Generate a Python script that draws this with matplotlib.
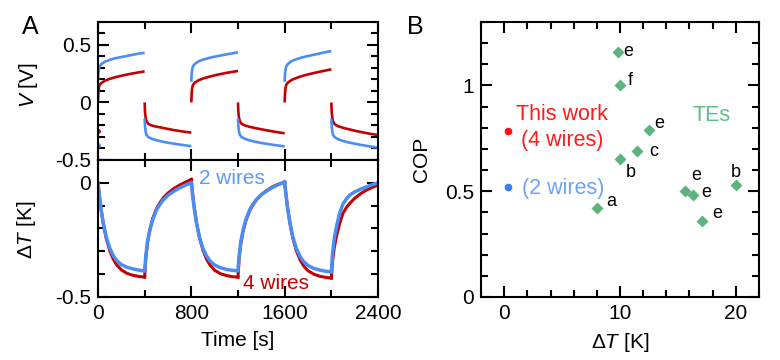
import matplotlib.pyplot as plt
from matplotlib.ticker import MultipleLocator

plt.rcParams['font.family'] = ['Liberation Sans', 'DejaVu Sans']
plt.rcParams['mathtext.fontset'] = 'custom'
plt.rcParams['mathtext.rm'] = 'Liberation Sans'
plt.rcParams['mathtext.it'] = 'Liberation Sans:italic'
plt.rcParams['axes.unicode_minus'] = False

# --- Panel A data: half-cycles of 400 s, sampled at these times (s, relative) ---
seg_start = [0, 400, 800, 1200, 1600, 2000]
t_v = [0, 3, 8, 15, 30, 60, 100, 150, 200, 250, 300, 350, 400]
t_dt = [0, 10, 25, 45, 70, 100, 130, 160, 200, 250, 300, 350, 400]

v_2w = [
    [0.18, 0.25, 0.29, 0.315, 0.335, 0.355, 0.37, 0.385, 0.395, 0.405, 0.415, 0.425, 0.432],
    [-0.14, -0.2, -0.25, -0.28, -0.3, -0.315, -0.328, -0.34, -0.35, -0.358, -0.366, -0.373, -0.38],
    [0.18, 0.25, 0.29, 0.315, 0.335, 0.357, 0.372, 0.387, 0.398, 0.408, 0.418, 0.427, 0.436],
    [-0.14, -0.2, -0.25, -0.28, -0.3, -0.316, -0.33, -0.342, -0.352, -0.36, -0.368, -0.375, -0.382],
    [0.18, 0.25, 0.29, 0.316, 0.337, 0.36, 0.376, 0.392, 0.404, 0.415, 0.426, 0.437, 0.447],
    [-0.14, -0.2, -0.25, -0.282, -0.303, -0.32, -0.335, -0.348, -0.358, -0.368, -0.377, -0.385, -0.392],
]
v_4w = [
    [0.0, 0.08, 0.13, 0.155, 0.17, 0.19, 0.205, 0.22, 0.232, 0.243, 0.253, 0.262, 0.27],
    [0.0, -0.08, -0.13, -0.16, -0.185, -0.2, -0.21, -0.22, -0.23, -0.24, -0.248, -0.256, -0.262],
    [0.0, 0.08, 0.13, 0.155, 0.172, 0.192, 0.208, 0.223, 0.236, 0.247, 0.257, 0.266, 0.274],
    [0.0, -0.08, -0.13, -0.16, -0.185, -0.2, -0.212, -0.223, -0.233, -0.243, -0.252, -0.26, -0.268],
    [0.0, 0.08, 0.13, 0.157, 0.175, 0.196, 0.213, 0.23, 0.244, 0.256, 0.267, 0.278, 0.288],
    [0.0, -0.08, -0.13, -0.165, -0.19, -0.207, -0.22, -0.233, -0.245, -0.256, -0.266, -0.275, -0.283],
]
# last point of the previous cycle, seen at t = 0
v_2w_t0 = -0.37
v_4w_t0 = -0.25

dt_2w = [
    [0.0, -0.048, -0.11, -0.175, -0.235, -0.285, -0.318, -0.34, -0.358, -0.37, -0.377, -0.382, -0.386],
    [-0.386, -0.32, -0.255, -0.205, -0.16, -0.12, -0.095, -0.075, -0.055, -0.037, -0.022, -0.01, 0.0],
    [0.0, -0.05, -0.112, -0.178, -0.238, -0.288, -0.32, -0.342, -0.36, -0.372, -0.379, -0.383, -0.385],
    [-0.385, -0.32, -0.255, -0.203, -0.158, -0.118, -0.092, -0.072, -0.052, -0.034, -0.019, -0.007, 0.004],
    [0.004, -0.048, -0.11, -0.175, -0.236, -0.287, -0.32, -0.343, -0.362, -0.375, -0.382, -0.387, -0.39],
    [-0.39, -0.31, -0.245, -0.19, -0.135, -0.092, -0.07, -0.053, -0.04, -0.028, -0.018, -0.008, 0.0],
]
dt_4w = [
    [0.0, -0.049, -0.111, -0.178, -0.242, -0.296, -0.333, -0.359, -0.381, -0.397, -0.405, -0.41, -0.413],
    [-0.413, -0.33, -0.262, -0.205, -0.155, -0.115, -0.088, -0.066, -0.045, -0.025, -0.01, 0.003, 0.015],
    [0.015, -0.04, -0.105, -0.175, -0.24, -0.295, -0.333, -0.36, -0.383, -0.398, -0.406, -0.411, -0.413],
    [-0.413, -0.33, -0.265, -0.21, -0.162, -0.122, -0.095, -0.073, -0.052, -0.032, -0.016, -0.005, 0.002],
    [0.002, -0.046, -0.108, -0.176, -0.242, -0.297, -0.335, -0.362, -0.385, -0.4, -0.409, -0.414, -0.417],
    [-0.417, -0.345, -0.285, -0.232, -0.18, -0.133, -0.108, -0.089, -0.068, -0.048, -0.032, -0.02, -0.01],
]

# --- Panel B data ---
te_dt = [9.8, 10.0, 12.5, 11.5, 10.0, 8.0, 15.6, 16.3, 17.1, 20.0]
te_cop = [1.16, 1.0, 0.79, 0.69, 0.65, 0.42, 0.5, 0.48, 0.36, 0.53]
te_ref = ['e', 'f', 'e', 'c', 'b', 'a', 'e', 'e', 'e', 'b']
te_offset = [(11, 0), (10, 5), (10, 6), (16, 0), (11, -13), (14, 7), (11, 16), (13, 3), (15, 7), (0, 12)]
work_dt = 0.3
work_cop_4w = 0.785
work_cop_2w = 0.52

blue = '#4a8ef5'
red = '#c40000'
green = '#5bb37e'
FS = 15

fig = plt.figure(figsize=(7.8, 3.6), dpi=100)
ax_v = fig.add_axes([0.1256, 0.5556, 0.359, 0.3834])
ax_t = fig.add_axes([0.1256, 0.175, 0.359, 0.3806], sharex=ax_v)
ax_b = fig.add_axes([0.6167, 0.175, 0.3563, 0.7639])


def style(ax, xmaj, xmin, ymaj, ymin):
    ax.xaxis.set_major_locator(MultipleLocator(xmaj))
    ax.xaxis.set_minor_locator(MultipleLocator(xmin))
    ax.yaxis.set_major_locator(MultipleLocator(ymaj))
    ax.yaxis.set_minor_locator(MultipleLocator(ymin))
    ax.tick_params(which='both', direction='in', top=True, right=True, width=1.5, labelsize=FS, pad=5)
    ax.tick_params(which='major', length=8)
    ax.tick_params(which='minor', length=5)
    for s in ax.spines.values():
        s.set_linewidth(1.5)


# V panel
for k, s0 in enumerate(seg_start):
    tt = [s0 + t for t in t_v]
    ax_v.plot(tt, v_4w[k], color=red, lw=1.9, solid_capstyle='butt')
    ax_v.plot(tt, v_2w[k], color=blue, lw=1.9, solid_capstyle='butt')
ax_v.plot([0], [v_4w_t0], 'o', color=red, ms=2.5)
ax_v.plot([0], [v_2w_t0], 'o', color=blue, ms=2.5)
ax_v.set_xlim(0, 2400)
ax_v.set_ylim(-0.5, 0.7)
style(ax_v, 800, 400, 0.5, 0.1)
ax_v.tick_params(labelbottom=False)
ax_v.set_yticks([-0.5, 0, 0.5])
ax_v.set_yticklabels(['-0.5', '0', '0.5'])
ax_v.set_ylabel('$V$ [V]', fontsize=FS)
ax_v.yaxis.set_label_coords(-0.207, 0.54)

# dT panel
for k, s0 in enumerate(seg_start):
    tt = [s0 + t for t in t_dt]
    ax_t.plot(tt, dt_4w[k], color=red, lw=2.2)
    ax_t.plot(tt, dt_2w[k], color=blue, lw=2.5)
ax_t.set_ylim(-0.5, 0.1)
style(ax_t, 800, 400, 0.5, 0.1)
ax_t.set_yticks([-0.5, 0])
ax_t.set_yticklabels(['-0.5', '0'])
ax_t.set_xticks([0, 800, 1600, 2400])
ax_t.set_ylabel('Δ$T$ [K]', fontsize=FS)
ax_t.yaxis.set_label_coords(-0.214, 0.49)
ax_t.set_xlabel('Time [s]', fontsize=FS, labelpad=6)
ax_t.text(870, 0.018, '2 wires', color='#5b9bf7', fontsize=FS, ha='left', va='center')
ax_t.text(1245, -0.44, '4 wires', color=red, fontsize=FS, ha='left', va='center')

# Panel B
ax_b.plot(te_dt, te_cop, 'D', color=green, ms=6.5, mec='none')
for x, y, r, off in zip(te_dt, te_cop, te_ref, te_offset):
    ax_b.annotate(r, (x, y), xytext=off, textcoords='offset pixels',
                  ha='center', va='center', fontsize=13)
ax_b.plot([work_dt], [work_cop_4w], 'o', color='#ff1414', ms=5.5, mec='none')
ax_b.plot([work_dt], [work_cop_2w], 'o', color='#3b7ff5', ms=5.5, mec='none')
ax_b.text(5.0, 0.80, 'This work\n(4 wires)', color='#ff1a1a', fontsize=15.5,
          ha='center', va='center', linespacing=1.3)
ax_b.text(5.06, 0.514, '(2 wires)', color='#6fa1f7', fontsize=15.5, ha='center', va='center')
ax_b.text(17.9, 0.858, 'TEs', color='#5fbf88', fontsize=15.5, ha='center', va='center')
ax_b.set_xlim(-2, 22)
ax_b.set_ylim(0, 1.3)
style(ax_b, 10, 2, 0.5, 0.1)
ax_b.set_yticks([0, 0.5, 1])
ax_b.set_yticklabels(['0', '0.5', '1'])
ax_b.set_xlabel('Δ$T$ [K]', fontsize=FS, labelpad=6)
ax_b.set_ylabel('COP', fontsize=FS)
ax_b.yaxis.set_label_coords(-0.18, 0.5)

fig.text(30 / 780, 1 - 27 / 360, 'A', fontsize=18, ha='center', va='center')
fig.text(415 / 780, 1 - 27 / 360, 'B', fontsize=18, ha='center', va='center')

fig.savefig('out.png', dpi=100)
